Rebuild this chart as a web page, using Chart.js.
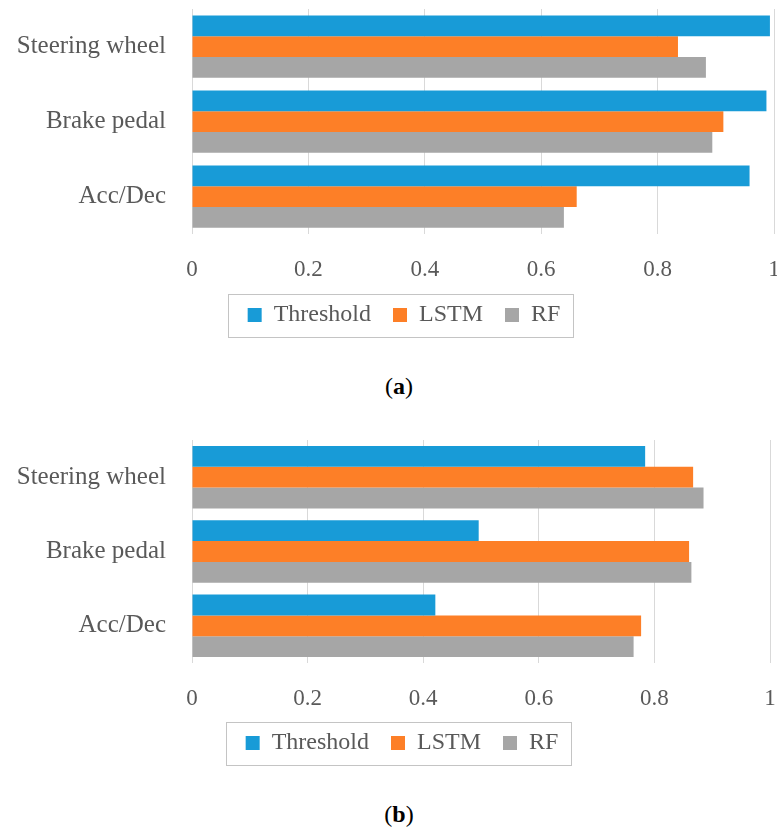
<!DOCTYPE html>
<html>
<head>
<meta charset="utf-8">
<script src="https://cdn.jsdelivr.net/npm/chart.js@4.4.1/dist/chart.umd.min.js"></script>
<style>
    body { margin: 0; width: 777px; height: 828px; overflow: hidden; background: #fff; position: relative; }
    .panel { position: absolute; left: 0; }
    .caption { position: absolute; left: 0; width: 798px; text-align: center; font: 24px 'Liberation Serif', serif; color: #000; }
</style>
</head>
<body>
<div class="panel" style="top:0px"><canvas id="chartA" width="785" height="345"></canvas></div>
<div class="caption" style="top:373px">(<b>a</b>)</div>
<div class="panel" style="top:430px"><canvas id="chartB" width="785" height="340"></canvas></div>
<div class="caption" style="top:801px">(<b>b</b>)</div>

<script>
const categories = ['Steering wheel', 'Brake pedal', 'Acc/Dec'];
const seriesNames = ['Threshold', 'LSTM', 'RF'];
const seriesColors = ['#189BD7', '#FD7F27', '#A6A6A6'];
const xTickLabels = ['0', '0.2', '0.4', '0.6', '0.8', '1'];

// panel (a)
const thresholdA = [0.993, 0.987, 0.958];
const lstmA = [0.835, 0.913, 0.661];
const rfA = [0.883, 0.894, 0.639];

// panel (b)
const thresholdB = [0.784, 0.496, 0.421];
const lstmB = [0.867, 0.860, 0.777];
const rfB = [0.885, 0.864, 0.764];

const FONT = "'Liberation Serif', serif";
const TEXT = '#595959';

// legend sits a bit right of centre in the original, and has a thin frame
const legendFrame = {
    id: 'legendFrame',
    afterLayout(chart) {
        chart.legend.left += 17;
        chart.legend.right += 17;
    },
    afterDraw(chart) {
        const hb = chart.legend.legendHitBoxes;
        if (!hb || !hb.length) return;
        const first = hb[0], last = hb[hb.length - 1];
        const left = Math.round(first.left - 20);
        const right = Math.round(last.left + last.width + 13);
        const cy = Math.round(first.top + first.height / 2);
        const ctx = chart.ctx;
        ctx.save();
        ctx.strokeStyle = '#C4C4C4';
        ctx.lineWidth = 1;
        ctx.strokeRect(left + 0.5, cy - 21 + 0.5, right - left, 43);
        ctx.restore();
    }
};

function makeChart(id, values, pad) {
    new Chart(document.getElementById(id), {
        type: 'bar',
        data: {
            labels: categories,
            datasets: seriesNames.map((name, i) => ({
                label: name,
                data: values[i],
                backgroundColor: seriesColors[i],
                borderWidth: 0,
                barPercentage: 1,
                categoryPercentage: pad.cat
            }))
        },
        options: {
            indexAxis: 'y',
            responsive: false,
            animation: false,
            layout: { padding: { top: pad.top, right: pad.right, bottom: pad.bottom, left: 0 } },
            scales: {
                x: {
                    min: 0,
                    max: 1,
                    ticks: {
                        stepSize: 0.2,
                        padding: 22,
                        color: TEXT,
                        font: { family: FONT, size: 23 },
                        callback: (v, i) => xTickLabels[i]
                    },
                    grid: { color: '#D9D9D9', drawTicks: false },
                    border: { display: false },
                    afterFit: (scale) => {
                        scale.height = pad.axis;
                        scale.paddingLeft = 0;
                        scale.paddingRight = 0;
                    }
                },
                y: {
                    ticks: {
                        padding: 26,
                        color: TEXT,
                        font: { family: FONT, size: 25 }
                    },
                    grid: { display: false, drawTicks: false },
                    border: { display: false },
                    afterFit: (scale) => {
                        scale.width = 192;
                        scale.paddingTop = 0;
                        scale.paddingBottom = 0;
                    }
                }
            },
            plugins: {
                legend: {
                    position: 'bottom',
                    labels: {
                        boxWidth: 14,
                        boxHeight: 14,
                        padding: 22,
                        color: TEXT,
                        font: { family: FONT, size: 24 }
                    }
                },
                tooltip: { enabled: false }
            }
        },
        plugins: [legendFrame]
    });
}

makeChart('chartA', [thresholdA, lstmA, rfA], { top: 9, right: 11, bottom: 8, axis: 47, cat: 0.83 });
makeChart('chartB', [thresholdB, lstmB, rfB], { top: 10, right: 15, bottom: 5, axis: 46, cat: 0.84 });
</script>
</body>
</html>
